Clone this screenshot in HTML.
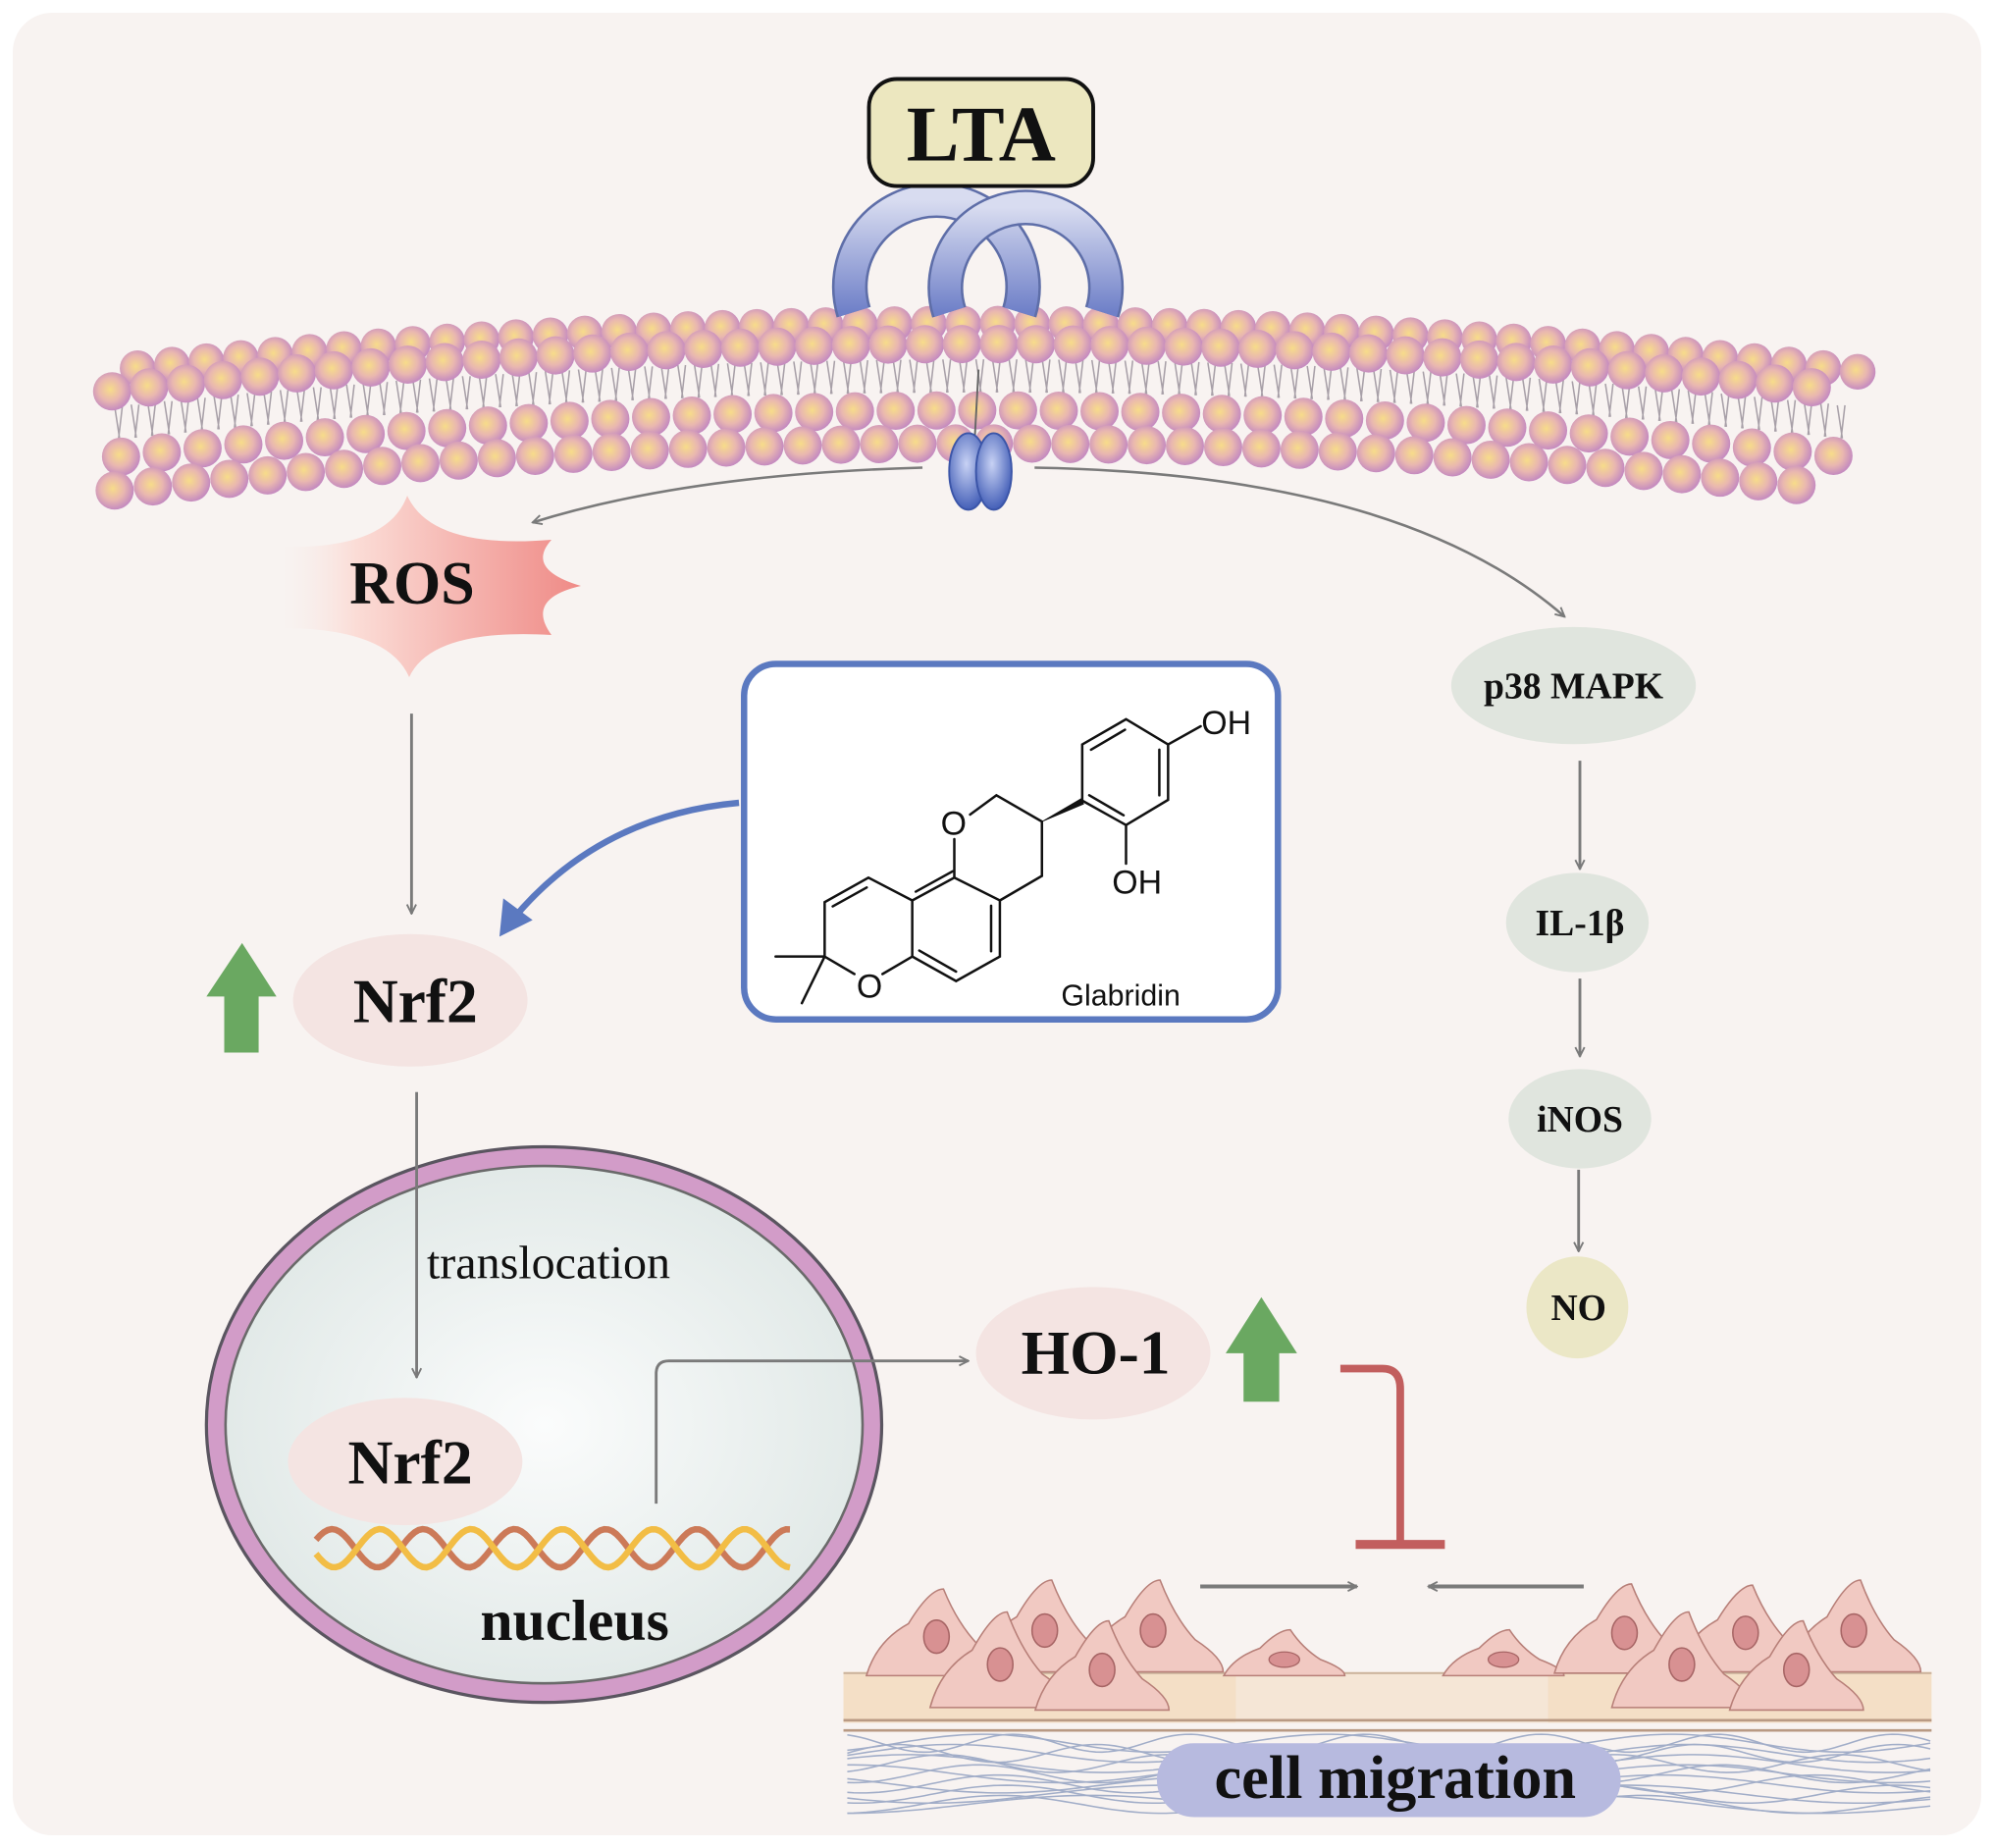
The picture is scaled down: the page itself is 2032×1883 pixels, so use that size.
<!DOCTYPE html>
<html><head><meta charset="utf-8"><style>
html,body{margin:0;padding:0;background:#fff;}
svg{display:block;}
text{font-family:"Liberation Serif",serif;font-weight:bold;fill:#111;}
</style></head><body>
<svg id="s" width="2032" height="1883" viewBox="0 0 2032 1883" xmlns="http://www.w3.org/2000/svg">
<defs>
<radialGradient id="head" cx="0.45" cy="0.45" r="0.55"><stop offset="0" stop-color="#f7dc8a"/><stop offset="0.55" stop-color="#e9b7b0"/><stop offset="1" stop-color="#c58bbf"/></radialGradient>
<linearGradient id="ring" x1="0" y1="0" x2="0" y2="1"><stop offset="0" stop-color="#d8dcf0"/><stop offset="1" stop-color="#6f80c8"/></linearGradient>
<radialGradient id="chan" cx="0.45" cy="0.4" r="0.6"><stop offset="0" stop-color="#c8d2f4"/><stop offset="1" stop-color="#4560b8"/></radialGradient>
<linearGradient id="ros" x1="0" y1="0" x2="1" y2="0"><stop offset="0" stop-color="#f8ece9" stop-opacity="0"/><stop offset="0.25" stop-color="#fbdcd6"/><stop offset="1" stop-color="#ef8a86"/></linearGradient>
<radialGradient id="nuc" cx="0.5" cy="0.5" r="0.6"><stop offset="0" stop-color="#fbfcfc"/><stop offset="1" stop-color="#dde6e4"/></radialGradient>
<marker id="ah" viewBox="0 0 10 10" refX="9" refY="5" markerWidth="9" markerHeight="9" orient="auto" markerUnits="userSpaceOnUse"><path d="M1,1 L9,5 L1,9" fill="none" stroke="#7a7a7a" stroke-width="1.6"/></marker>
</defs>
<rect x="0" y="0" width="2032" height="1883" fill="#ffffff"/>
<rect x="13" y="13" width="2006" height="1857" rx="40" fill="#f8f3f1"/>
<g transform="scale(1.2984)">
  <g id="mem"></g>
  <rect x="682" y="62" width="176" height="84" rx="22" fill="#ece7bf" stroke="#111" stroke-width="3"/>
  <text x="770" y="126" font-size="62" text-anchor="middle">LTA</text>
  <path d="M724,367 Q540,372 418,410" fill="none" stroke="#7a7a7a" stroke-width="2" marker-end="url(#ah)"/>
  <path d="M812,367 Q1100,372 1228,484" fill="none" stroke="#7a7a7a" stroke-width="2" marker-end="url(#ah)"/>
  <line x1="323" y1="560" x2="323" y2="717" stroke="#7a7a7a" stroke-width="2.2" marker-end="url(#ah)"/>
  <ellipse cx="322" cy="785" rx="92" ry="52" fill="#f4e4e2"/>
  <text x="326" y="802" font-size="49" text-anchor="middle">Nrf2</text>
  <polygon points="190,740 217,782 203,782 203,826 176,826 176,782 162,782" fill="#6aa861"/>
  <rect x="584" y="521" width="419" height="279" rx="25" fill="#fff" stroke="#5b79c0" stroke-width="5"/>
  <path d="M580,630 Q470,640 402,722" fill="none" stroke="#5b79c0" stroke-width="5"/>
  <polygon points="392,735 395,705 418,722" fill="#5b79c0"/>
  <ellipse cx="1235" cy="538" rx="96" ry="46" fill="#e0e5de"/>
  <text x="1235" y="548" font-size="29" text-anchor="middle">p38 MAPK</text>
  <line x1="1240" y1="597" x2="1240" y2="682" stroke="#7a7a7a" stroke-width="2.2" marker-end="url(#ah)"/>
  <ellipse cx="1238" cy="724" rx="56" ry="39" fill="#e0e5de"/>
  <text x="1240" y="734" font-size="29" text-anchor="middle">IL-1β</text>
  <line x1="1240" y1="768" x2="1240" y2="829" stroke="#7a7a7a" stroke-width="2.2" marker-end="url(#ah)"/>
  <ellipse cx="1240" cy="878" rx="56" ry="39" fill="#e0e5de"/>
  <text x="1240" y="888" font-size="29" text-anchor="middle">iNOS</text>
  <line x1="1239" y1="918" x2="1239" y2="982" stroke="#7a7a7a" stroke-width="2.2" marker-end="url(#ah)"/>
  <circle cx="1238" cy="1026" r="40" fill="#ebe7c6"/>
  <text x="1239" y="1036" font-size="29" text-anchor="middle">NO</text>
  <ellipse cx="427" cy="1118" rx="265" ry="218" fill="#d29cc8" stroke="#5a5560" stroke-width="2.5"/>
  <ellipse cx="427" cy="1118" rx="250" ry="203" fill="url(#nuc)" stroke="#6a6a6a" stroke-width="2"/>
  <text x="335" y="1003" font-size="37" style="font-weight:normal">translocation</text>
  <line x1="327" y1="857" x2="327" y2="1081" stroke="#7a7a7a" stroke-width="2.2" marker-end="url(#ah)"/>
  <ellipse cx="318" cy="1147" rx="92" ry="50" fill="#f4e4e2"/>
  <text x="322" y="1164" font-size="49" text-anchor="middle">Nrf2</text>
  <path id="dna1" fill="none" stroke="#cc7a58" stroke-width="5"/>
  <path id="dna2" fill="none" stroke="#f2bd45" stroke-width="5"/>
  <text x="451" y="1287" font-size="46" text-anchor="middle">nucleus</text>
  <path d="M515,1180 L515,1078 Q515,1068 525,1068 L760,1068" fill="none" stroke="#7a7a7a" stroke-width="2.2" marker-end="url(#ah)"/>
  <ellipse cx="858" cy="1062" rx="92" ry="52" fill="#f4e4e2"/>
  <text x="860" y="1078" font-size="49" text-anchor="middle">HO-1</text>
  <polygon points="990,1018 1018,1062 1004,1062 1004,1100 976,1100 976,1062 962,1062" fill="#6aa861"/>
  <path d="M1052,1074 L1085,1074 Q1099,1074 1099,1090 L1099,1212" fill="none" stroke="#c25e5e" stroke-width="6"/>
  <line x1="1064" y1="1212" x2="1134" y2="1212" stroke="#c25e5e" stroke-width="7"/>
  <line x1="942" y1="1245" x2="1065" y2="1245" stroke="#7a7a7a" stroke-width="3" marker-end="url(#ah)"/>
  <line x1="1243" y1="1245" x2="1121" y2="1245" stroke="#7a7a7a" stroke-width="3" marker-end="url(#ah)"/>
  <rect x="662" y="1312" width="854" height="40" fill="#f4dfc6"/>
  <rect x="970" y="1312" width="245" height="40" fill="#f5e6d6"/>
  <line x1="662" y1="1313" x2="1516" y2="1313" stroke="#c9b19a" stroke-width="1.5"/>
  <line x1="662" y1="1350" x2="1516" y2="1350" stroke="#b99a84" stroke-width="2"/>
  <line x1="662" y1="1358" x2="1516" y2="1358" stroke="#b99a84" stroke-width="2"/>
  <g id="fib" fill="none" stroke="#98a6c4" stroke-width="1.2" opacity="0.9"></g>
  <g id="cells"></g>
  <rect x="908" y="1368" width="364" height="58" rx="29" fill="#b7badf"/>
  <text x="1095" y="1411" font-size="48" text-anchor="middle">cell migration</text>
</g>
<path d="M415,505 Q440,560 562,550 Q535,580 592,597 Q535,610 562,647 Q440,640 417,690 Q395,640 287,640 L287,557 Q395,560 415,505 Z" fill="url(#ros)"/>
<text x="420" y="615" font-size="62" text-anchor="middle">ROS</text>
<g transform="translate(760,680) scale(0.35714)" stroke="#111" stroke-width="7" fill="none" stroke-linecap="round">
  <path d="M960,380 L960,220 L1085,148 L1205,220 L1205,378 L1085,450 Z"/>
  <path d="M985,235 L1082,178 M1180,235 L1180,365 M980,365 L1078,422"/>
  <path d="M1205,220 L1298,168 M1085,450 L1085,560"/>
  <path d="M640,420 L715,365 L845,440 L845,595 L725,665 M595,600 L595,490"/>
  <path d="M595,600 L725,665 L725,825 L600,895 L475,825 L475,665 Z"/>
  <path d="M700,680 L700,810 M600,868 L495,808 M485,640 L590,582"/>
  <path d="M475,665 L350,600 L225,670 L225,825 L310,875 M390,875 L475,825"/>
  <path d="M345,628 L248,682"/>
  <path d="M225,825 L85,825 M225,825 L160,958"/>
  <polygon points="845,440 958,374 964,390" fill="#111" stroke-width="2"/>
  <g stroke="none" fill="#111">
    <text x="1300" y="190" font-size="95" style="font-family:'Liberation Sans',sans-serif;font-weight:normal">OH</text>
    <text x="1045" y="645" font-size="95" style="font-family:'Liberation Sans',sans-serif;font-weight:normal">OH</text>
    <text x="556" y="478" font-size="95" style="font-family:'Liberation Sans',sans-serif;font-weight:normal">O</text>
    <text x="316" y="942" font-size="95" style="font-family:'Liberation Sans',sans-serif;font-weight:normal">O</text>
    <text x="900" y="965" font-size="85" style="font-family:'Liberation Sans',sans-serif;font-weight:normal">Glabridin</text>
  </g>
</g>
</svg>
<script>
var NS="http://www.w3.org/2000/svg";
function el(t,a,p){var e=document.createElementNS(NS,t);for(var k in a)e.setAttribute(k,a[k]);p.appendChild(e);return e;}
var mem=document.getElementById('mem');
function yt(x){var u=(x-770)/690;return 270+38*u*u;}
for(var x=95;x<=1450;x+=27){el('circle',{cx:x+13,cy:yt(x+13)-16,r:14,fill:'url(#head)'},mem);}
var tp="";
for(var x=90;x<=1450;x+=13){var y=yt(x);tp+="M"+x+","+(y+12)+" l4,26 M"+(x+6)+","+(y+12)+" l-3,26 ";}
el('path',{d:tp,stroke:'#a8a0a8','stroke-width':1.2,fill:'none'},mem);
var rg=el('g',{},mem);
el('path',{d:"M670,245 A68,68 0 1 1 800,245",fill:'none',stroke:'#5e6ea8','stroke-width':28},rg);
el('path',{d:"M670,245 A68,68 0 1 1 800,245",fill:'none',stroke:'url(#ring)','stroke-width':24},rg);
el('path',{d:"M745,245 A63,63 0 1 1 865,245",fill:'none',stroke:'#5e6ea8','stroke-width':28},rg);
el('path',{d:"M745,245 A63,63 0 1 1 865,245",fill:'none',stroke:'url(#ring)','stroke-width':24},rg);
for(var x=88;x<=1450;x+=29){el('circle',{cx:x,cy:yt(x),r:15,fill:'url(#head)'},mem);}
for(var x=95;x<=1440;x+=32){el('circle',{cx:x,cy:yt(x)+52,r:15,fill:'url(#head)'},mem);}
for(var x=90;x<=1430;x+=30){el('circle',{cx:x,cy:yt(x)+78,r:15,fill:'url(#head)'},mem);}
el('line',{x1:768,y1:290,x2:765,y2:345,stroke:'#666','stroke-width':1.5},mem);
el('ellipse',{cx:760,cy:370,rx:15,ry:30,fill:'url(#chan)',stroke:'#3b55a8','stroke-width':1.5},mem);
el('ellipse',{cx:780,cy:370,rx:14,ry:30,fill:'url(#chan)',stroke:'#3b55a8','stroke-width':1.5},mem);
function wave(ph,amp){var d="";for(var i=0;i<=120;i++){var x=248+i*(372/120);var y=1215+amp*Math.sin((x-248)/372*2*Math.PI*5.2+ph);d+=(i?"L":"M")+x.toFixed(1)+","+y.toFixed(1);}return d;}
document.getElementById('dna1').setAttribute('d',wave(3.6,15));
document.getElementById('dna2').setAttribute('d',wave(0.3,15));
var fib=document.getElementById('fib');
for(var k=0;k<14;k++){var d="";var y0=1368+(k%7)*8;for(var i=0;i<=170;i++){var x=665+i*5;var y=y0+7*Math.sin(x/(22+k*3)+k*1.7);d+=(i?"L":"M")+x+","+y.toFixed(1);}el('path',{d:d},fib);}
var cg=document.getElementById('cells');
function cell(cx,base,w,h,big){var d="M"+(cx-w/2)+","+base+" Q"+(cx-w/2+8)+","+(base-h*0.4)+" "+(cx-w*0.2)+","+(base-h*0.6)+" Q"+(cx-w*0.05)+","+(base-h)+" "+(cx+w*0.05)+","+(base-h)+" Q"+(cx+w*0.15)+","+(base-h*0.6)+" "+(cx+w*0.3)+","+(base-h*0.35)+" Q"+(cx+w/2)+","+(base-h*0.15)+" "+(cx+w/2)+","+base+" Z";
el('path',{d:d,fill:'#f1c9c2',stroke:'#b77f78','stroke-width':1.2},cg);
if(big)el('ellipse',{cx:cx,cy:base-h*0.45,rx:10,ry:13,fill:'#d89192',stroke:'#a76565','stroke-width':1.2},cg);
else el('ellipse',{cx:cx,cy:base-h*0.35,rx:12,ry:6,fill:'#d89192',stroke:'#a76565','stroke-width':1},cg);}
cell(735,1315,110,68,1);cell(820,1312,110,72,1);cell(905,1312,110,72,1);
cell(1008,1315,95,36,0);cell(1180,1315,95,36,0);
cell(1275,1313,110,70,1);cell(1370,1312,110,68,1);cell(1455,1312,105,72,1);
cell(785,1340,110,75,1);cell(865,1342,105,70,1);
cell(1320,1340,110,75,1);cell(1410,1342,105,70,1);
</script>
</body></html>
